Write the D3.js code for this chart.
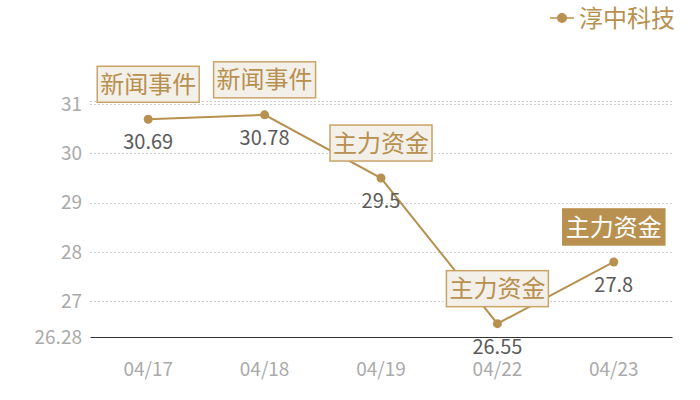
<!DOCTYPE html>
<html><head><meta charset="utf-8">
<script src="https://cdn.jsdelivr.net/npm/d3@7/dist/d3.min.js"></script>
<style>body{margin:0;background:#fff}svg{display:block;font-family:"Noto Sans CJK SC","Noto Sans",sans-serif}</style>
</head><body><svg id="c" width="700" height="400"></svg>
<script>
const categories = ["04/17","04/18","04/19","04/22","04/23"];
const values = [30.69, 30.78, 29.5, 26.55, 27.8];
const eventLabels = ["新闻事件","新闻事件","主力资金","主力资金","主力资金"];
const highlighted = [false,false,false,false,true];
const yTicks = [27,28,29,30,31];
const yMin = 26.28, yMax = 31.06;
const seriesName = "淳中科技";

const gold = "#b8904f";
const svg = d3.select("#c");
const x = d3.scaleBand().domain(categories).range([90,672]);
const y = d3.scaleLinear().domain([yMin,yMax]).range([337,101]);
const cx = d => x(d) + x.bandwidth()/2;

// grid
svg.append("g").selectAll("line").data(yTicks.concat([yMax])).join("line")
  .attr("x1",90).attr("x2",672).attr("y1",d=>Math.round(y(d))+0.5).attr("y2",d=>Math.round(y(d))+0.5)
  .attr("stroke","#d0d0d0").attr("stroke-dasharray","2,2");

// y labels
svg.append("g").selectAll("text").data(yTicks.concat([yMin])).join("text")
  .attr("x",82).attr("y",d=>y(d)).attr("dy","0.35em").attr("text-anchor","end")
  .attr("fill","#aaa").attr("font-size",19).text(d=>d);

// x axis
const xAxis = d3.axisBottom(x).tickSize(0).tickPadding(26);
const gx = svg.append("g").attr("transform","translate(0,337)").call(xAxis);
gx.select(".domain").attr("stroke","#333").attr("stroke-width",1.2);
gx.selectAll("text").attr("fill","#aaa").attr("font-size",19).attr("font-family","\"Noto Sans CJK SC\",sans-serif");

// line
const pts = categories.map((c,i)=>({c,v:values[i],lab:eventLabels[i],hl:highlighted[i]}));
svg.append("path").datum(pts)
  .attr("d",d3.line().x(d=>cx(d.c)).y(d=>y(d.v)))
  .attr("fill","none").attr("stroke",gold).attr("stroke-width",2);

svg.append("g").selectAll("circle").data(pts).join("circle")
  .attr("cx",d=>cx(d.c)).attr("cy",d=>y(d.v)).attr("r",4.5).attr("fill",gold);

// value labels
svg.append("g").selectAll("text").data(pts).join("text")
  .attr("x",d=>cx(d.c)).attr("y",d=>y(d.v)+23).attr("dy","0.35em").attr("text-anchor","middle")
  .attr("fill","#5a5a5a").attr("font-size",20).text(d=>d.v);

// annotation boxes
const ann = svg.append("g").selectAll("g").data(pts).join("g")
  .attr("transform",d=>`translate(${cx(d.c)},${y(d.v)-35})`);
ann.append("rect").attr("x",-51).attr("y",-18).attr("width",102).attr("height",36)
  .attr("fill",d=>d.hl?gold:"#f3efe9").attr("stroke",d=>d.hl?gold:"#c9a468").attr("stroke-width",1.5);
ann.append("text").attr("text-anchor","middle").attr("dy","0.36em").attr("y",0)
  .attr("font-size",24).attr("fill",d=>d.hl?"#fff":gold).text(d=>d.lab);

// legend
const lg = svg.append("g");
lg.append("line").attr("x1",550).attr("x2",574).attr("y1",18).attr("y2",18).attr("stroke",gold).attr("stroke-width",1.5);
lg.append("circle").attr("cx",562).attr("cy",18).attr("r",5).attr("fill",gold);
lg.append("text").attr("x",579).attr("y",18).attr("dy","0.36em").attr("font-size",24).attr("fill",gold).text(seriesName);
</script></body></html>
